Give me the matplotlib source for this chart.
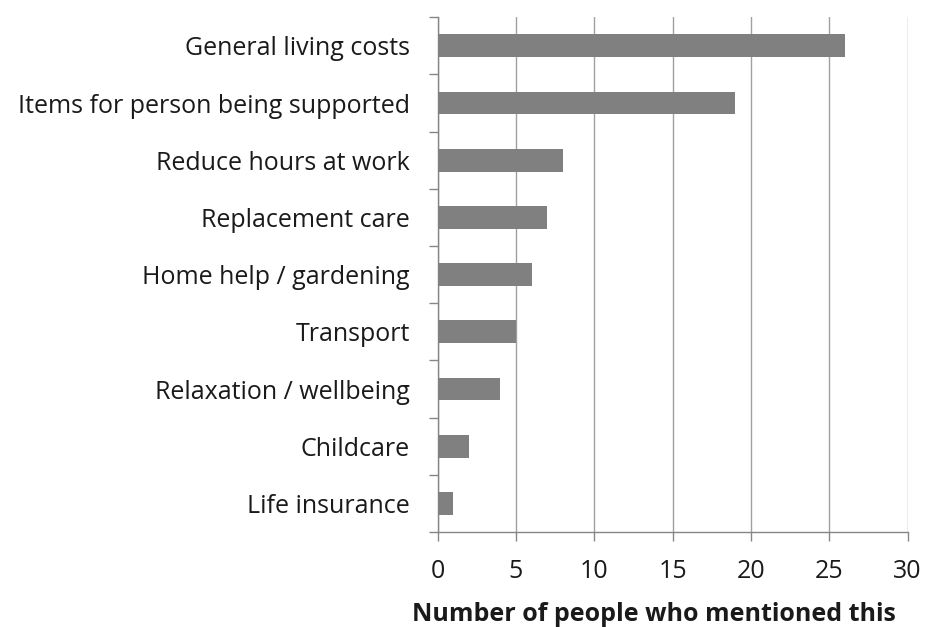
import numpy as np
import matplotlib.pyplot as plt

# costs mentioned by carers, most common first
categories = ["General living costs", "Items for person being supported",
              "Reduce hours at work", "Replacement care", "Home help / gardening",
              "Transport", "Relaxation / wellbeing", "Childcare", "Life insurance"]
counts = [26, 19, 8, 7, 6, 5, 4, 2, 1]
x_ticks = [0, 5, 10, 15, 20, 25, 30]

plt.rcParams['font.family'] = ['Open Sans', 'DejaVu Sans']

fig = plt.figure(figsize=(9.27, 6.27), dpi=100)
ax = fig.add_axes([0.472, 0.1515, 0.507, 0.821])

ypos = np.arange(len(categories))
ax.barh(ypos, counts, height=0.4, color="#808080", zorder=3)

ax.set_xlim(0, 30)
ax.set_ylim(len(categories) - 0.5, -0.5)
ax.set_xticks(x_ticks)
ax.set_xticklabels([str(t) for t in x_ticks], fontsize=18, color="#1a1a1a")
ax.set_yticks(ypos)
ax.set_yticklabels(categories, fontsize=18, color="#1a1a1a")
ax.set_yticks(np.arange(len(categories) + 1) - 0.5, minor=True)

ax.tick_params(axis='y', which='major', length=0, pad=20)
ax.tick_params(axis='y', which='minor', length=6.5, width=1, color="#868686")
ax.tick_params(axis='x', which='major', length=6.5, width=1, color="#868686", pad=13)

ax.grid(axis='x', color="#a0a0a0", linewidth=1, zorder=0)
for side in ['top', 'right']:
    ax.spines[side].set_visible(False)
for side in ['left', 'bottom']:
    ax.spines[side].set_color("#868686")
    ax.spines[side].set_linewidth(1)

ax.set_xlabel("Number of people who mentioned this", fontsize=18, fontweight='bold',
              color="#1a1a1a")
ax.xaxis.set_label_coords(0.46, -0.135)

fig.savefig("out.png", dpi=100)
